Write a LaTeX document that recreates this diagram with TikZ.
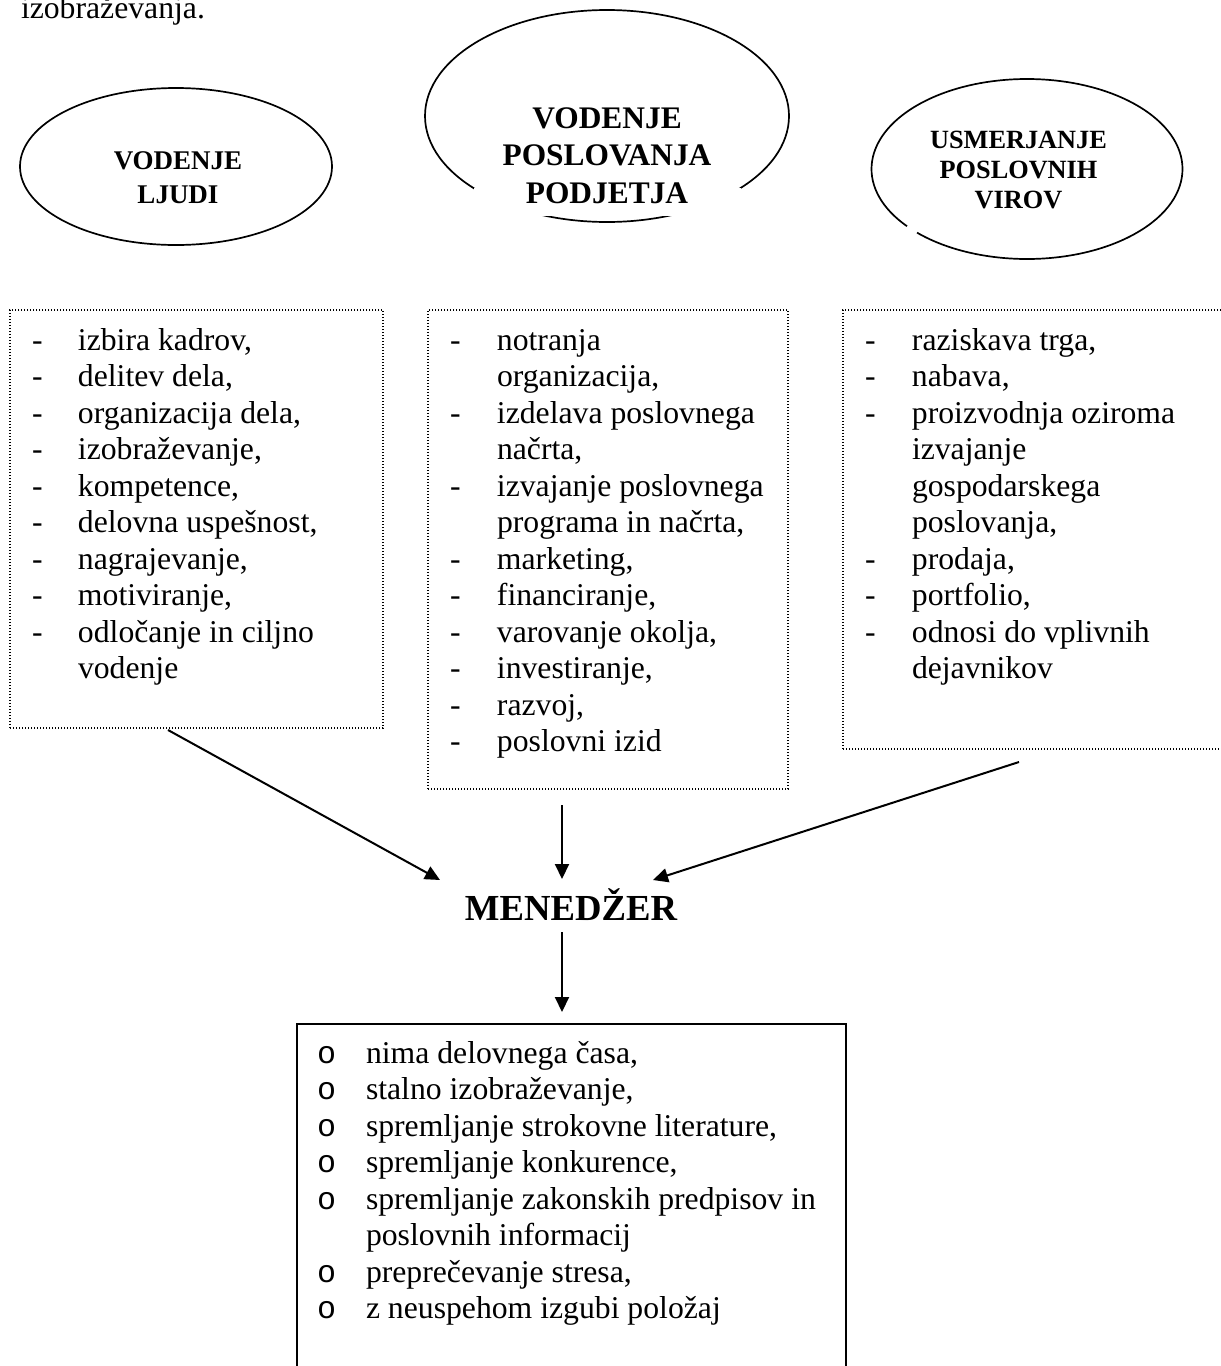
\documentclass[tikz,border=0pt]{standalone}
\usepackage{fontspec}
\setmainfont{Liberation Serif}
\newfontfamily\bulletfont{Liberation Mono}
\usetikzlibrary{arrows.meta}
\begin{document}
\begin{tikzpicture}[x=1pt,y=1pt,
  every node/.style={inner sep=0pt, outer sep=0pt},
  body/.style={font={\fontsize{31.7}{36.5}\selectfont}, anchor=base west},
  bubble/.style={line width=1.7pt},
  headL/.style={font={\bfseries\fontsize{27}{34}\selectfont}, anchor=base},
  headM/.style={font={\bfseries\fontsize{31.4}{37.5}\selectfont}, anchor=base},
  headR/.style={font={\bfseries\fontsize{26.3}{30}\selectfont}, anchor=base},
  chief/.style={font={\bfseries\fontsize{36.7}{42}\selectfont}, anchor=base},
  listbox/.style={draw, line width=1.1pt, dash pattern=on 1.1pt off 1.9pt, anchor=north west},
  duties/.style={draw, line width=2pt, anchor=north west},
  conn/.style={line width=2pt, -{Triangle[length=15pt,width=14pt]}},
]
\useasboundingbox (0,0) rectangle (1221,-1366);

% closing word of the preceding paragraph
\node[body] (prev) at (21,-18.5) {izobraževanja.};

% the three fields of management
\draw[bubble] (176,-166.5) ellipse [x radius=156, y radius=78.5];
\draw[bubble] (607,-116) ellipse [x radius=182, y radius=106];
\fill[white] (474,-188) rectangle (741,-216);
\draw[bubble] (1027,-169) ++(225:155.5 and 90)
  arc [start angle=225, end angle=579.5, x radius=155.5, y radius=90];

\node[headL] (people) at (178,-169)
  {\begin{tabular}[t]{@{}c@{}}VODENJE\\LJUDI\end{tabular}};
\node[headM] (business) at (607,-128)
  {\begin{tabular}[t]{@{}c@{}}VODENJE\\POSLOVANJA\\PODJETJA\end{tabular}};
\node[headR] (resources) at (1018.5,-148)
  {\begin{tabular}[t]{@{}c@{}}USMERJANJE\\POSLOVNIH\\VIROV\end{tabular}};

% task lists
\node[listbox, minimum width=373pt, minimum height=418pt] (lbox) at (10,-310) {};
\node[listbox, minimum width=360pt, minimum height=479pt] (mbox) at (428,-310) {};
\node[listbox, minimum width=400pt, minimum height=439pt] (rbox) at (843,-310) {};

\node[body] (llist) at (32,-350) {\begin{tabular}[t]{@{}p{46pt}@{}l@{}}
- & izbira kadrov,\\
- & delitev dela,\\
- & organizacija dela,\\
- & izobraževanje,\\
- & kompetence,\\
- & delovna uspešnost,\\
- & nagrajevanje,\\
- & motiviranje,\\
- & odločanje in ciljno\\
  & vodenje
\end{tabular}};

\node[body] (mlist) at (450,-350) {\begin{tabular}[t]{@{}p{47pt}@{}l@{}}
- & notranja\\
  & organizacija,\\
- & izdelava poslovnega\\
  & načrta,\\
- & izvajanje poslovnega\\
  & programa in načrta,\\
- & marketing,\\
- & financiranje,\\
- & varovanje okolja,\\
- & investiranje,\\
- & razvoj,\\
- & poslovni izid
\end{tabular}};

\node[body] (rlist) at (865,-350) {\begin{tabular}[t]{@{}p{47pt}@{}l@{}}
- & raziskava trga,\\
- & nabava,\\
- & proizvodnja oziroma\\
  & izvajanje\\
  & gospodarskega\\
  & poslovanja,\\
- & prodaja,\\
- & portfolio,\\
- & odnosi do vplivnih\\
  & dejavnikov
\end{tabular}};

% the manager
\node[chief] (mgr) at (571,-920) {MENEDŽER};

\coordinate (lfoot) at (168,-730);
\coordinate (mfoot) at (562,-805);
\coordinate (rfoot) at (1019,-762);
\coordinate (lin) at (440,-880);
\coordinate (min) at (562,-879);
\coordinate (rin) at (653,-880);
\coordinate (mout) at (562,-932);
\coordinate (dtop) at (562,-1012);

\draw[conn] (lfoot) -- (lin);
\draw[conn] (mfoot) -- (min);
\draw[conn] (rfoot) -- (rin);
\draw[conn] (mout) -- (dtop);

% what the job demands
\node[duties, minimum width=549pt, minimum height=360pt] (dbox) at (297,-1024) {};
\node[body] (dlist) at (317,-1063) {\begin{tabular}[t]{@{}p{49pt}@{}l@{}}
{\bulletfont o} & nima delovnega časa,\\
{\bulletfont o} & stalno izobraževanje,\\
{\bulletfont o} & spremljanje strokovne literature,\\
{\bulletfont o} & spremljanje konkurence,\\
{\bulletfont o} & spremljanje zakonskih predpisov in\\
  & poslovnih informacij\\
{\bulletfont o} & preprečevanje stresa,\\
{\bulletfont o} & z neuspehom izgubi položaj
\end{tabular}};
\end{tikzpicture}
\end{document}
